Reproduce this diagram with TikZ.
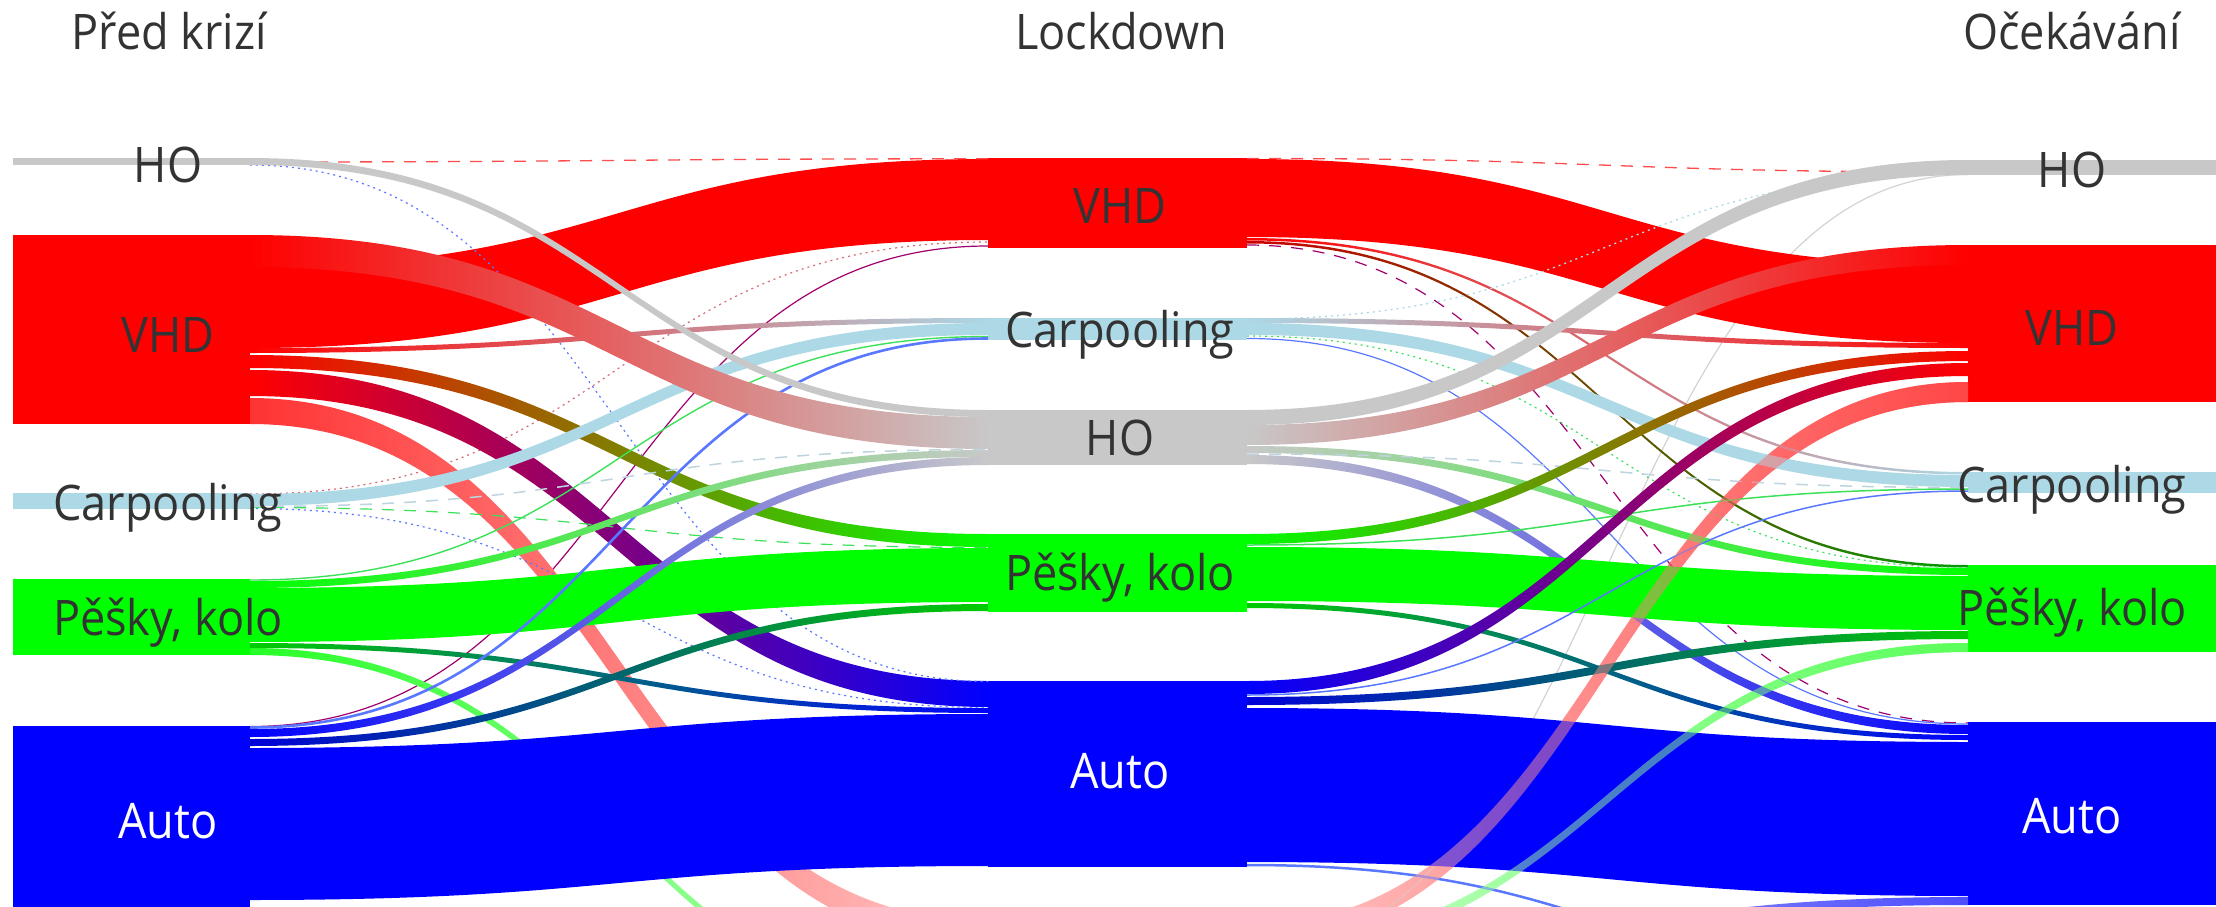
\documentclass[tikz,border=0pt]{standalone}
\usepackage{fontspec}
\setmainfont[FakeStretch=0.92]{Open Sans}
\usetikzlibrary{calc}
\definecolor{hoC}{RGB}{200,200,200}
\definecolor{vhdC}{RGB}{255,0,0}
\definecolor{carC}{RGB}{173,216,230}
\definecolor{pkC}{RGB}{0,255,0}
\definecolor{autoC}{RGB}{0,0,255}
\definecolor{txt}{RGB}{51,51,51}
\definecolor{pinkX}{RGB}{255,200,200}
\definecolor{salmon}{RGB}{255,70,70}
\definecolor{greenX}{RGB}{205,255,205}
\definecolor{blueX}{RGB}{200,200,255}
\definecolor{crim}{RGB}{160,0,110}
\definecolor{thinblue}{RGB}{90,120,255}
\definecolor{thingreen}{RGB}{60,225,90}
\definecolor{thingray}{RGB}{190,212,222}
% band between two named nodes: src, src top, src bottom, tgt, tgt top, tgt bottom, style
\newcommand\lnkband[7]{%
 \path[#7] let \p1=(#1.north east), \p2=(#4.north west), \n1={0.5*(\x1+\x2)} in
 (\x1,\y1-#2pt) .. controls (\n1,\y1-#2pt) and (\n1,\y2-#5pt) .. (\x2,\y2-#5pt)
 -- (\x2,\y2-#6pt) .. controls (\n1,\y2-#6pt) and (\n1,\y1-#3pt) .. (\x1,\y1-#3pt) -- cycle;}
% thin link line
\newcommand\lnkline[5]{%
 \draw[#5] let \p1=(#1.north east), \p2=(#3.north west), \n1={0.5*(\x1+\x2)} in
 (\x1,\y1-#2pt) .. controls (\n1,\y1-#2pt) and (\n1,\y2-#4pt) .. (\x2,\y2-#4pt);}
\tikzset{
 bar/.style={draw=none, inner sep=0pt, outer sep=0pt, anchor=north west, rectangle},
 lcol/.style={bar, minimum width=237pt},
 mcol/.style={bar, minimum width=259pt},
 rcol/.style={bar, minimum width=248pt},
 lbl/.style={font=\fontsize{49}{58}\selectfont, text=txt, anchor=base, inner sep=0pt},
 wlbl/.style={lbl, text=white},
 dsh/.style={dash pattern=on 12pt off 10pt},
 dts/.style={dash pattern=on 2pt off 4pt}
}
\begin{document}
\begin{tikzpicture}[x=1pt,y=-1pt]
\useasboundingbox (0,0) rectangle (2216,907);
\clip (0,0) rectangle (2216,907);
\fill[white] (0,0) rectangle (2216,907);

% ---------- nodes (bars) ----------
\node[lcol, fill=hoC,   minimum height=7pt]   (lHO)   at (13,158) {};
\node[lcol, fill=vhdC,  minimum height=189pt] (lVHD)  at (13,235) {};
\node[lcol, fill=carC,  minimum height=16pt]  (lCarp) at (13,493) {};
\node[lcol, fill=pkC,   minimum height=76pt]  (lP)    at (13,579) {};
\node[lcol, fill=autoC, minimum height=300pt] (lAuto) at (13,726) {};

\node[mcol, fill=vhdC,  minimum height=90pt]  (mVHD)  at (988,158) {};
\node[mcol, fill=carC,  minimum height=22pt]  (mCarp) at (988,318) {};
\node[mcol, fill=hoC,   minimum height=55pt]  (mHO)   at (988,410) {};
\node[mcol, fill=pkC,   minimum height=78pt]  (mP)    at (988,534) {};
\node[mcol, fill=autoC, minimum height=186pt] (mAuto) at (988,681) {};
\node[mcol, minimum height=120pt]             (mX)    at (988,915) {};

\node[rcol, fill=hoC,   minimum height=15pt]  (rHO)   at (1968,160) {};
\node[rcol, fill=vhdC,  minimum height=157pt] (rVHD)  at (1968,245) {};
\node[rcol, fill=carC,  minimum height=21pt]  (rCarp) at (1968,472) {};
\node[rcol, fill=pkC,   minimum height=87pt]  (rP)    at (1968,565) {};
\node[rcol, fill=autoC, minimum height=183pt] (rAuto) at (1968,722) {};
\node[rcol, minimum height=80pt]              (rX)    at (1968,920) {};

% ---------- left -> middle ----------
% target VHD
\lnkband{lVHD}{32}{113}{mVHD}{1}{82}{fill=vhdC}
\lnkline{lHO}{4}{mVHD}{0.8}{vhdC!70, line width=1.3pt, dsh}
\lnkline{lCarp}{1}{mVHD}{84}{vhdC!50!carC, line width=1.2pt, dts}
\lnkline{lAuto}{0.5}{mVHD}{88}{crim, line width=1.2pt}
% target X (below the picture)
\lnkband{lVHD}{163}{189}{mX}{6}{32}{left color=vhdC!80!white, right color=pinkX}
\lnkband{lP}{69}{76}{mX}{95}{102}{left color=pkC!85!white, right color=greenX}
% target Auto
\lnkband{lVHD}{135}{161}{mAuto}{0}{26}{left color=vhdC, right color=autoC}
\lnkband{lP}{64}{69}{mAuto}{27}{32}{left color=pkC!80!black, right color=autoC}
\lnkband{lAuto}{22}{174}{mAuto}{33}{185}{fill=autoC}
\lnkline{lHO}{7}{mAuto}{0.5}{thinblue, line width=1.2pt, dts}
\lnkline{lCarp}{15.5}{mAuto}{26.5}{thinblue, line width=1.2pt, dts}
% target Pesky
\lnkband{lVHD}{120}{133}{mP}{0}{13}{left color=vhdC, right color=pkC}
\lnkband{lP}{9}{63}{mP}{14}{68}{fill=pkC}
\lnkband{lAuto}{13}{20}{mP}{70}{77}{left color=autoC!85!black, right color=pkC!80!black}
\lnkline{lCarp}{14.5}{mP}{13.5}{thingreen, line width=1.2pt, dsh}
% target Carpooling
\lnkband{lVHD}{113}{118}{mCarp}{0}{5}{left color=vhdC, right color=carC}
\lnkband{lCarp}{1}{13}{mCarp}{5}{17}{fill=carC}
\lnkline{lP}{1}{mCarp}{18.5}{thingreen, line width=1.4pt}
\lnkline{lAuto}{1.5}{mCarp}{20.5}{thinblue, line width=2.6pt}
% target HO
\lnkband{lVHD}{0}{32}{mHO}{7}{39}{left color=vhdC, right color=hoC}
\lnkband{lP}{2}{9}{mHO}{40}{47}{left color=pkC, right color=hoC}
\lnkband{lAuto}{3}{11}{mHO}{47}{55}{left color=autoC, right color=hoC}
\lnkline{lCarp}{13.5}{mHO}{39.5}{thingray, line width=1.5pt, dsh}
\lnkband{lHO}{0}{7}{mHO}{0}{7}{fill=hoC}

% ---------- middle -> right ----------
% bands from below the picture (opaque layer)
\lnkband{mX}{10}{30}{rVHD}{137}{157}{left color=pinkX, right color=salmon}
\lnkband{mX}{31}{40}{rP}{78}{87}{left color=greenX, right color=pkC!65!white}
\lnkband{mX}{42}{50}{rAuto}{175}{183}{left color=blueX, right color=autoC!70!white}
\lnkline{mX}{41}{rHO}{14.5}{hoC!80, line width=1.2pt}
% target Auto
\lnkband{mHO}{45}{54}{rAuto}{3}{12}{left color=hoC, right color=autoC}
\lnkband{mP}{69}{74}{rAuto}{13}{18}{left color=pkC!80!black, right color=autoC}
\lnkband{mAuto}{27}{181}{rAuto}{20}{174}{fill=autoC}
\lnkline{mVHD}{87}{rAuto}{1}{crim, line width=1.2pt, dsh}
\lnkline{mCarp}{20.5}{rAuto}{2}{thinblue, line width=1.2pt}
\lnkline{mAuto}{184}{rX}{60}{thinblue, line width=2.5pt}
% target Pesky
\lnkband{mVHD}{83}{85.5}{rP}{0}{2.5}{left color=vhdC!80!black, right color=pkC!60!black}
\lnkband{mHO}{36}{43}{rP}{3}{10}{left color=hoC, right color=pkC}
\lnkband{mP}{13}{67}{rP}{11}{65}{fill=pkC}
\lnkband{mAuto}{16}{24}{rP}{66}{74}{left color=autoC!85!black, right color=pkC!80!black}
\lnkline{mCarp}{18}{rP}{2.5}{thingreen, line width=1.2pt, dts}
% target Carpooling
\lnkband{mVHD}{80}{82.5}{rCarp}{0}{2.5}{left color=vhdC, right color=carC}
\lnkband{mCarp}{5}{17}{rCarp}{3}{15}{fill=carC}
\lnkline{mHO}{44}{rCarp}{15.5}{thingray, line width=1.5pt, dsh}
\lnkline{mP}{11}{rCarp}{17}{thingreen, line width=1.5pt}
\lnkline{mAuto}{14}{rCarp}{19}{thinblue, line width=1.5pt}
% target VHD
\lnkband{mVHD}{1}{79}{rVHD}{20}{98}{fill=vhdC}
\lnkband{mCarp}{0}{5}{rVHD}{98}{103}{left color=carC, right color=vhdC}
\lnkband{mHO}{15}{35}{rVHD}{0}{20}{left color=hoC, right color=vhdC}
\lnkband{mP}{0}{10}{rVHD}{106}{116}{left color=pkC, right color=vhdC}
\lnkband{mAuto}{0}{13}{rVHD}{118}{131}{left color=autoC, right color=vhdC}
% target HO
\lnkline{mVHD}{0.5}{rHO}{12}{vhdC!70, line width=1.3pt, dsh}
\lnkline{mCarp}{1}{rHO}{14}{carC, line width=1.3pt, dts}
\lnkband{mHO}{0}{15}{rHO}{0}{15}{fill=hoC}
% translucent layer of the bands from below
\lnkband{mX}{10}{30}{rVHD}{137}{157}{left color=pinkX, right color=salmon, fill opacity=0.5}
\lnkband{mX}{31}{40}{rP}{78}{87}{left color=greenX, right color=pkC!65!white, fill opacity=0.5}

% ---------- labels ----------
\node[lbl] (tPre)  at (169,50)  {Před krizí};
\node[lbl] (tLock) at (1121,50) {Lockdown};
\node[lbl] (tExp)  at (2072,50) {Očekávání};

\node[lbl]  (tlHO)   at (168,182) {HO};
\node[lbl]  (tlVHD)  at (168,352) {VHD};
\node[lbl]  (tlCarp) at (168,520) {Carpooling};
\node[lbl]  (tlP)    at (168,635) {Pěšky, kolo};
\node[wlbl] (tlAuto) at (168,838) {Auto};

\node[lbl]  (tmVHD)  at (1120,223) {VHD};
\node[lbl]  (tmCarp) at (1120,347) {Carpooling};
\node[lbl]  (tmHO)   at (1120,455) {HO};
\node[lbl]  (tmP)    at (1120,590) {Pěšky, kolo};
\node[wlbl] (tmAuto) at (1120,788) {Auto};

\node[lbl]  (trHO)   at (2072,187) {HO};
\node[lbl]  (trVHD)  at (2072,345) {VHD};
\node[lbl]  (trCarp) at (2072,502) {Carpooling};
\node[lbl]  (trP)    at (2072,625) {Pěšky, kolo};
\node[wlbl] (trAuto) at (2072,833) {Auto};
\end{tikzpicture}
\end{document}
